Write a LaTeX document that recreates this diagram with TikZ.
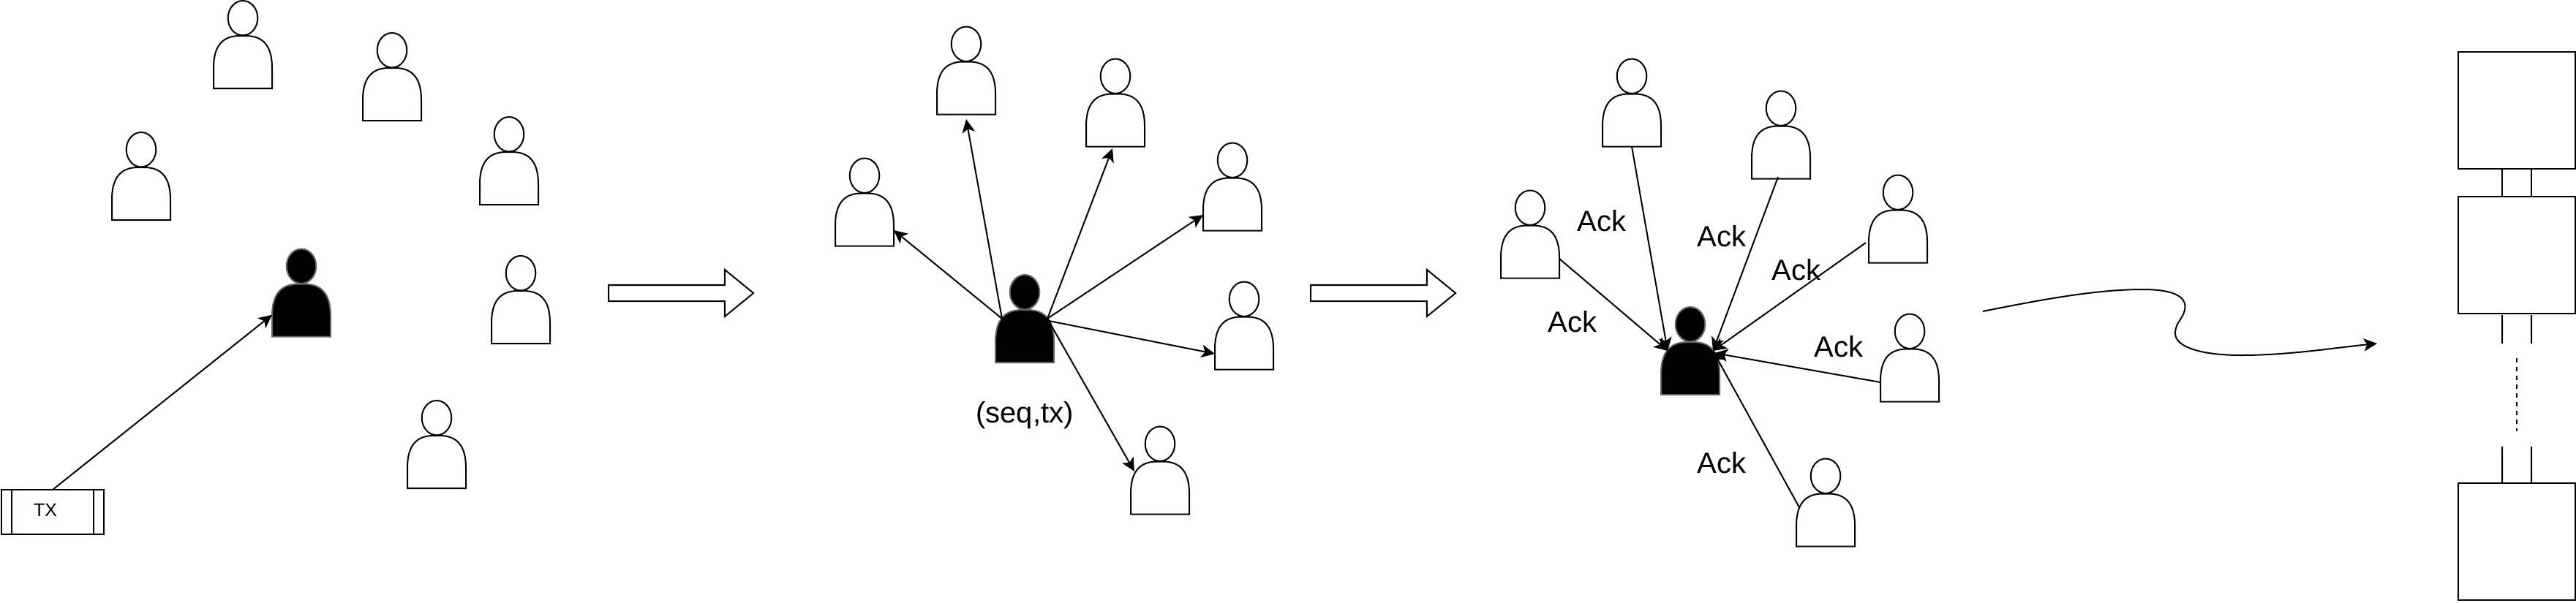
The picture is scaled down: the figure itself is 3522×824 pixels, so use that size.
\documentclass[tikz,border=0pt]{standalone}
\usepackage{fontspec}
\setmainfont{Liberation Sans}
\usetikzlibrary{arrows.meta,positioning,shapes.arrows}

% one figure: name, look, x of its centre, y of the top of its head
\newcommand{\person}[4]{%
  \node[personbox] (#1) at (#3,#4) {};
  \coordinate (#1-sl) at ([shift={(-31,60)}]#1.north);
  \coordinate (#1-sr) at ([shift={(31,60)}]#1.north);
  \coordinate (#1-se) at ([shift={(33,63)}]#1.north);
  \draw[#2, shift={(#1.north)}] (0,23.7) ellipse [x radius=20.3, y radius=23.7]
    (-40,120) -- (-40,92) .. controls (-40,62) and (-28,48) .. (-4,48) -- (4,48)
    .. controls (28,48) and (40,62) .. (40,92) -- (40,120) -- cycle;
}

\begin{document}
\begin{tikzpicture}[
    x=0.01cm, y=-0.01cm, line width=0.57pt,
    % --- Styles ---
    personbox/.style={minimum width=0.8cm, minimum height=1.2cm, inner sep=0pt, outer sep=0pt, anchor=north},
    idle/.style={draw=black, fill=white},
    leader/.style={draw=black!60, fill=black},
    txbox/.style={draw, minimum width=1.4cm, minimum height=0.61cm, inner sep=0pt, outer sep=0pt},
    blockbox/.style={draw, minimum width=1.6cm, minimum height=1.6cm, inner sep=0pt, outer sep=0pt},
    bigarrow/.style={draw, single arrow, single arrow tip angle=78.4, single arrow head extend=0.21cm,
                     minimum height=1.98cm, inner xsep=0pt, inner ysep=0.1cm, outer sep=0pt, anchor=tail},
    tag/.style={font=\fontsize{11.4pt}{13pt}\selectfont, inner sep=0pt},
    msg/.style={-{Stealth[length=5.2pt, width=5pt, inset=1.3pt]}},
]
\useasboundingbox (0,0) rectangle (3522,824);

% === Left: transaction reaches the leader ===
\person{aone}{idle}{332}{1}
\person{atwo}{idle}{536}{45}
\person{athree}{idle}{193}{181}
\person{afour}{idle}{696}{160}
\person{afive}{idle}{712}{350}
\person{asix}{idle}{597}{548}
\person{alead}{leader}{412}{340.5}

\node[txbox] (tx) at (72,700.5) {};
\draw ([xshift=0.14cm]tx.north west) -- ([xshift=0.14cm]tx.south west);
\draw ([xshift=-0.14cm]tx.north east) -- ([xshift=-0.14cm]tx.south east);
\node[font=\fontsize{7.1pt}{9pt}\selectfont, inner sep=0pt] (txlabel) at (62,698) {TX};
\draw[msg] (tx.north) -- (alead.217);

\node[bigarrow] (stepa) at (832,401) {};

% === Middle: leader sends to everybody ===
\person{bone}{idle}{1321}{36.5}
\person{btwo}{idle}{1525}{80.5}
\person{bthree}{idle}{1182}{216.5}
\person{bfour}{idle}{1685}{195.5}
\person{bfive}{idle}{1701}{385.5}
\person{bsix}{idle}{1586}{583.5}
\person{blead}{leader}{1401}{376}

\node[tag, below=5.2mm of blead] (seqtx) {(seq,tx)};

\draw[msg] (blead-sl) -- (bthree.east |- 0,315);
\draw[msg] (blead-sl) -- ([yshift=-0.065cm]bone.south);
\draw[msg] (blead-sr) -- ([shift={(-0.04cm,-0.025cm)}]btwo.south);
\draw[msg] (blead-sr) -- (bfour.west |- 0,294);
\draw[msg] (blead-se) -- (bfive.west |- 0,484);
\draw[msg] (blead-sr) -- ([shift={(0.05cm,-0.615cm)}]bsix.north west);

\node[bigarrow] (stepb) at (1792,401) {};

% === Right: everybody answers the leader ===
\person{cone}{idle}{2231}{80.5}
\person{ctwo}{idle}{2435}{124.5}
\person{cthree}{idle}{2092}{260.5}
\person{cfour}{idle}{2595}{239.5}
\person{cfive}{idle}{2611}{429.5}
\person{csix}{idle}{2496}{627.5}
\person{clead}{leader}{2311}{420}

\draw[msg] (cone.south) -- (clead-sl);
\draw[msg] (cthree.east |- 0,354) -- (clead-sl);
\draw[msg] ([shift={(-0.04cm,0.025cm)}]ctwo.south) -- (clead-sr);
\draw[msg] ([shift={(-0.04cm,-0.925cm)}]cfour.north west) -- (clead-sr);
\draw[msg] (cfive.west |- 0,523) -- (clead-se);
\draw[msg] ([shift={(0.04cm,-0.665cm)}]csix.north west) -- (clead-sr);

\node[tag] (ackone) at (2190,302) {Ack};
\node[tag] (acktwo) at (2354,323) {Ack};
\node[tag] (ackthree) at (2456,369) {Ack};
\node[tag] (ackfour) at (2150,440) {Ack};
\node[tag] (ackfive) at (2514,474) {Ack};
\node[tag] (acksix) at (2354,633) {Ack};

% === Wavy arrow towards the chain ===
\coordinate (wavefrom) at (2711,426);
\coordinate (waveto) at (3250,470);
\draw[msg] (wavefrom) .. controls (2800,408) and (2870,396) .. (2929,396)
  .. controls (2970,396) and (2988,405) .. (2987.5,420)
  .. controls (2987,435) and (2974,440) .. (2974,456)
  .. controls (2974,475) and (3010,486) .. (3064,486)
  .. controls (3130,486) and (3190,476) .. (waveto);

% === Chain of blocks ===
\node[blockbox] (blocka) at (3441,151) {};
\node[blockbox] (blockb) at (3441,349) {};
\node[blockbox] (blockc) at (3441,741) {};

\draw ([xshift=-0.2cm]blocka.south) -- ([xshift=-0.2cm]blockb.north);
\draw ([xshift=0.2cm]blocka.south) -- ([xshift=0.2cm]blockb.north);

\coordinate (linka) at (3421,470);
\coordinate (linkb) at (3461,470);
\coordinate (linkc) at (3421,611);
\coordinate (linkd) at (3461,611);
\draw ([shift={(-0.2cm,-0.02cm)}]blockb.south) -- (linka);
\draw ([shift={(0.2cm,-0.02cm)}]blockb.south) -- (linkb);
\draw (linkc) -- ([xshift=-0.2cm]blockc.north);
\draw (linkd) -- ([xshift=0.2cm]blockc.north);

\coordinate (dotsa) at (3441,490);
\coordinate (dotsb) at (3441,590);
\draw[dash pattern=on 1.7pt off 1.7pt] (dotsa) -- (dotsb);

\end{tikzpicture}
\end{document}
